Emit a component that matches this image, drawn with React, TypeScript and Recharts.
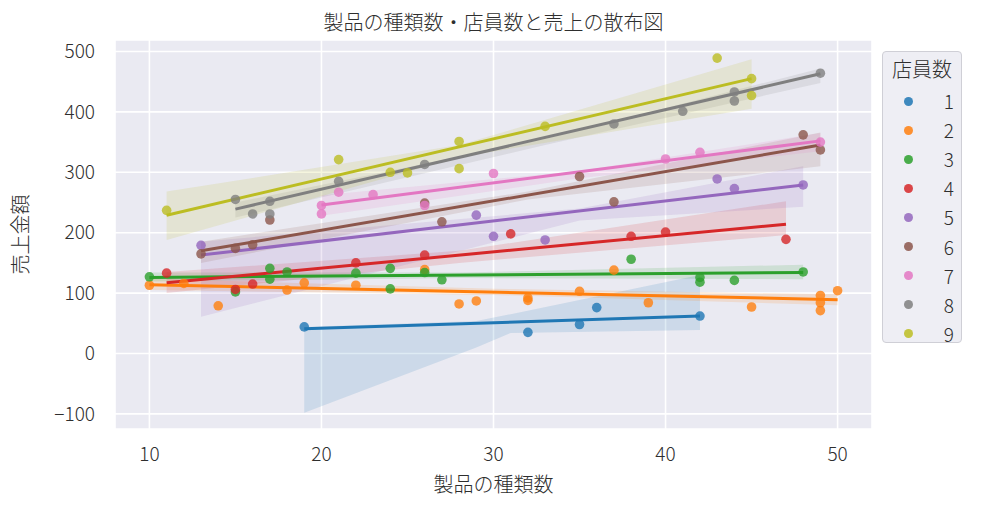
import { ComposedChart, Scatter, Line, Area, XAxis, YAxis, CartesianGrid } from 'recharts'

const FONT = '"Noto Sans CJK JP", "Noto Sans", sans-serif'
const TEXT = '#2e2e2e'

const staffCounts = [1, 2, 3, 4, 5, 6, 7, 8, 9]
const colors = ['#1f77b4', '#ff7f0e', '#2ca02c', '#d62728', '#9467bd', '#8c564b', '#e377c2', '#7f7f7f', '#bcbd22']

const xTicks = [10, 20, 30, 40, 50]
const yTicks = [-100, 0, 100, 200, 300, 400, 500]

// [製品の種類数, 売上金額]
const staff1 = [[19, 44], [32, 35], [35, 48], [36, 76], [42, 62]]
const staff2 = [[10, 113], [12, 116], [14, 79], [18, 105], [19, 117], [22, 113], [26, 139], [28, 82], [29, 87], [32, 92], [32, 88], [35, 103], [37, 138], [39, 84], [45, 77], [49, 96], [49, 84], [49, 71], [50, 104]]
const staff3 = [[10, 127], [15, 102], [17, 141], [17, 123], [18, 135], [22, 133], [24, 141], [24, 107], [26, 134], [27, 122], [38, 156], [42, 126], [42, 118], [44, 121], [48, 135]]
const staff4 = [[11, 133], [15, 106], [16, 115], [22, 150], [26, 163], [31, 198], [38, 194], [40, 201], [47, 189]]
const staff5 = [[13, 179], [29, 229], [30, 194], [33, 188], [43, 289], [44, 273], [48, 279]]
const staff6 = [[13, 165], [15, 174], [16, 180], [17, 221], [26, 249], [27, 218], [35, 293], [37, 251], [48, 362], [49, 337]]
const staff7 = [[20, 245], [20, 231], [21, 267], [23, 263], [26, 245], [30, 298], [40, 322], [42, 333], [49, 350]]
const staff8 = [[15, 255], [16, 231], [17, 252], [17, 231], [21, 285], [26, 313], [37, 380], [41, 401], [44, 433], [44, 418], [49, 464]]
const staff9 = [[11, 237], [21, 321], [24, 300], [25, 299], [28, 351], [28, 306], [33, 376], [43, 489], [45, 455], [45, 427]]

const scatterSets = [staff1, staff2, staff3, staff4, staff5, staff6, staff7, staff8, staff9]

// regression line ends: [x0, y0, x1, y1]
const fitLines = [
    [19, 41, 42, 62],
    [10, 114, 50, 89],
    [10, 126, 48, 134],
    [11, 117, 47, 214],
    [13, 163, 48, 279],
    [13, 170, 49, 345],
    [20, 246, 49, 352],
    [15, 239, 49, 463],
    [11, 229, 45, 455],
]

// confidence band
const bandX = [
    [19, 29, 31, 42],
    [10, 30, 50],
    [10, 28, 48],
    [11, 28, 47],
    [13, 35, 48],
    [13, 32, 49],
    [20, 35, 49],
    [15, 33, 49],
    [11, 28, 45],
]
const bandLow = [
    [-98, 10, 34, 39],
    [105, 97, 80],
    [119, 125, 123],
    [100, 150, 196],
    [61, 220, 243],
    [150, 255, 310],
    [228, 290, 335],
    [225, 345, 448],
    [188, 325, 405],
]
const bandHigh = [
    [44, 54, 65, 130],
    [124, 107, 98],
    [134, 134, 147],
    [135, 170, 252],
    [185, 240, 310],
    [185, 268, 366],
    [262, 302, 365],
    [250, 355, 472],
    [268, 345, 487],
]

const minus = (v: number) => String(v).replace('-', '\u2212')

export default function App() {
    const series = staffCounts.flatMap((n, i) => {
        const color = colors[i]
        const pts = scatterSets[i].map(([x, y]) => ({ x, y }))
        const [x0, y0, x1, y1] = fitLines[i]
        const band = bandX[i].map((x, j) => ({ x, band: [bandLow[i][j], bandHigh[i][j]] }))
        return [
            <Scatter
                key={`s${n}`}
                data={pts}
                fill={color}
                isAnimationActive={false}
                shape={(p: any) => (
                    <circle cx={p.cx} cy={p.cy} r={4.8} fill={color} fillOpacity={0.8} />
                )}
            />,
            <Area
                key={`a${n}`}
                data={band}
                dataKey="band"
                type="linear"
                stroke="none"
                fill={color}
                fillOpacity={0.15}
                isAnimationActive={false}
                activeDot={false}
            />,
            <Line
                key={`l${n}`}
                data={[{ x: x0, y: y0 }, { x: x1, y: y1 }]}
                dataKey="y"
                stroke={color}
                strokeWidth={3}
                dot={false}
                activeDot={false}
                isAnimationActive={false}
            />,
        ]
    })

    const tickStyle = { fill: TEXT, fontSize: 19, fontFamily: FONT, fontWeight: 300 }

    return (
        <div style={{ position: 'absolute', left: 0, top: 0, width: 983, height: 506, background: '#fff', fontFamily: FONT, fontWeight: 300 }}>
            <ComposedChart width={983} height={506} margin={{ top: 40, right: 111, bottom: 0, left: 0 }}>
                <CartesianGrid fill="#EAEAF2" fillOpacity={1} stroke="#ffffff" strokeWidth={1.6} />
                <XAxis
                    dataKey="x"
                    type="number"
                    domain={[8, 52]}
                    ticks={xTicks}
                    height={77}
                    axisLine={false}
                    tickLine={false}
                    tickSize={0}
                    tickMargin={19}
                    tick={tickStyle}
                    label={{ value: '製品の種類数', position: 'insideBottom', offset: 14, fill: TEXT, fontSize: 20, fontFamily: FONT, fontWeight: 300 }}
                />
                <YAxis
                    dataKey="y"
                    type="number"
                    domain={[-125, 519]}
                    ticks={yTicks}
                    width={115}
                    axisLine={false}
                    tickLine={false}
                    tickSize={0}
                    tickMargin={20}
                    tick={tickStyle}
                    tickFormatter={minus}
                    label={{ value: '売上金額', angle: -90, position: 'insideLeft', offset: 21, fill: TEXT, fontSize: 20, fontFamily: FONT, fontWeight: 300, style: { textAnchor: 'middle' } }}
                />
                {series}
            </ComposedChart>

            <div style={{ position: 'absolute', top: 10, left: 115, width: 757, textAlign: 'center', fontSize: 20, lineHeight: '24px', color: TEXT }}>
                製品の種類数・店員数と売上の散布図
            </div>

            <div style={{ position: 'absolute', left: 882, top: 51, width: 78, height: 290, border: '1px solid #cfcfd6', borderRadius: 4, background: '#EEEEF4', color: TEXT }}>
                <div style={{ position: 'absolute', top: 4, left: 0, width: 78, textAlign: 'center', fontSize: 20, lineHeight: '26px' }}>店員数</div>
                {staffCounts.map((n, i) => (
                    <div key={n} style={{ position: 'absolute', left: 0, top: 49 + i * 29.1 - 12, width: 78, height: 24 }}>
                        <span style={{ position: 'absolute', left: 21, top: 7.5, width: 9, height: 9, borderRadius: '50%', background: colors[i], opacity: 0.85 }} />
                        <span style={{ position: 'absolute', right: 7, top: 0, fontSize: 19, lineHeight: '24px' }}>{n}</span>
                    </div>
                ))}
            </div>
        </div>
    )
}
